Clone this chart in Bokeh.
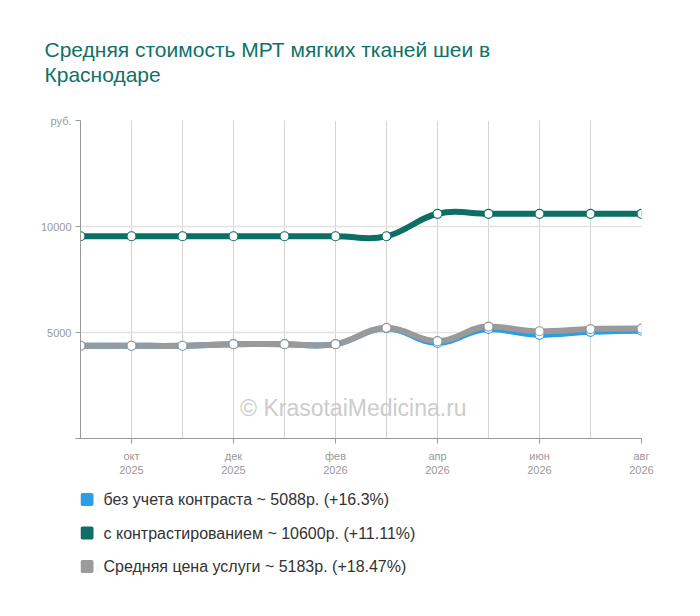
from bokeh.plotting import figure
from bokeh.layouts import column
from bokeh.models import (Range1d, FixedTicker, Label, ColumnDataSource, Title)
from bokeh.core.properties import value
from bokeh.embed import file_html
from bokeh.resources import INLINE

months = ["сен\n2025", "окт\n2025", "ноя\n2025", "дек\n2025", "янв\n2026", "фев\n2026",
          "мар\n2026", "апр\n2026", "май\n2026", "июн\n2026", "июл\n2026", "авг\n2026"]
no_contrast = [4375, 4375, 4375, 4450, 4450, 4450, 5200, 4510, 5170, 4890, 5030, 5088]
with_contrast = [9540, 9540, 9540, 9540, 9540, 9540, 9540, 10600, 10600, 10600, 10600, 10600]
average = [4375, 4375, 4375, 4450, 4450, 4450, 5220, 4590, 5280, 5060, 5160, 5183]

series_names = ["без учета контраста ~ 5088р. (+16.3%)",
                "с контрастированием ~ 10600р. (+11.11%)",
                "Средняя цена услуги ~ 5183р. (+18.47%)"]
series_colors = ["#2b9de2", "#0d6e66", "#9a9a9a"]
title_lines = ["Средняя стоимость МРТ мягких тканей шеи в", "Краснодаре"]
y_ticks = [0, 5000, 10000, 15000]
y_labels = ["", "5000", "10000", "руб."]
x_label_idx = [1, 3, 5, 7, 9, 11]

FONT = "Liberation Sans"
W = 684
H_CHART = 478
H_LEGEND = 122
BL, BR = 80, 43

p = figure(width=W, height=H_CHART, output_backend="svg", toolbar_location=None,
           x_range=Range1d(0, 11), y_range=Range1d(0, 15000),
           min_border_left=BL, min_border_right=BR, min_border_top=120, min_border_bottom=40)
p.outline_line_color = None
p.background_fill_color = "white"

# axes
xs = list(range(len(months)))
p.xaxis.ticker = FixedTicker(ticks=x_label_idx)
p.xaxis.major_label_overrides = {i: months[i] for i in x_label_idx}
p.xaxis.minor_tick_line_color = None
p.xaxis.major_tick_out = 5
p.xaxis.major_tick_in = 0
p.xaxis.axis_line_color = "#999999"
p.xaxis.major_tick_line_color = "#999999"
p.xaxis.major_label_text_color = "#999999"
p.xaxis.major_label_text_font = FONT
p.xaxis.major_label_text_font_size = "11px"
p.xaxis.major_label_standoff = 6

p.yaxis.ticker = FixedTicker(ticks=y_ticks)
p.yaxis.major_label_overrides = {t: l for t, l in zip(y_ticks, y_labels)}
p.yaxis.minor_tick_line_color = None
p.yaxis.major_tick_out = 5
p.yaxis.major_tick_in = 0
p.yaxis.axis_line_color = "#999999"
p.yaxis.major_tick_line_color = "#999999"
p.yaxis.major_label_text_color = "#999999"
p.yaxis.major_label_text_font = FONT
p.yaxis.major_label_text_font_size = "11px"
p.yaxis.major_label_standoff = 4

p.xgrid.ticker = FixedTicker(ticks=xs[1:])
p.xgrid.grid_line_color = "#d4d4d4"
p.xgrid.grid_line_width = 1
p.ygrid.ticker = FixedTicker(ticks=[5000, 10000])
p.ygrid.grid_line_color = "#e2e2e2"
p.ygrid.grid_line_width = 1.5

# watermark
p.add_layout(Label(x=5.35, y=1450, text="© KrasotaiMedicina.ru", text_align="center",
                   text_baseline="middle", text_font=FONT, text_font_size="23px",
                   text_color="#cccccc"))


def spline_source(ys):
    # Bezier control points (Highcharts-like spline) from the data points
    n = len(ys)
    x0, y0, x1, y1, cx0, cy0, cx1, cy1 = [], [], [], [], [], [], [], []
    k = 0.4

    def slope(i):
        a = ys[max(i - 1, 0)]
        b = ys[min(i + 1, n - 1)]
        if i == 0 or i == n - 1:
            return 0.0
        if (ys[i] - a) * (ys[i] - b) > 0:
            return 0.0
        return (b - a) / 2.0

    for i in range(n - 1):
        x0.append(xs[i]); y0.append(ys[i])
        x1.append(xs[i + 1]); y1.append(ys[i + 1])
        cx0.append(xs[i] + k); cy0.append(ys[i] + slope(i) * k)
        cx1.append(xs[i + 1] - k); cy1.append(ys[i + 1] - slope(i + 1) * k)
    return ColumnDataSource(dict(x0=x0, y0=y0, x1=x1, y1=y1, cx0=cx0, cy0=cy0, cx1=cx1, cy1=cy1))


series = [no_contrast, with_contrast, average]
for ys, col in zip(series, series_colors):
    p.bezier(x0="x0", y0="y0", x1="x1", y1="y1", cx0="cx0", cy0="cy0", cx1="cx1", cy1="cy1",
             source=spline_source(ys), line_color=col, line_width=6, line_cap="round")
for ys, col in zip(series, series_colors):
    p.scatter(xs, ys, size=9, fill_color="white", line_color=col, line_width=1.2)

# title (spacer next to the frame, then second line, then first line)
p.add_layout(Title(text=" ", text_font_size="1px", standoff=32), "above")
p.add_layout(Title(text=title_lines[1], align="left", offset=-36, standoff=0,
                   text_font=FONT, text_font_size="21px", text_color="#0f7266",
                   text_font_style="normal"), "above")
p.add_layout(Title(text=title_lines[0], align="left", offset=-36, standoff=0,
                   text_font=FONT, text_font_size="21px", text_color="#0f7266",
                   text_font_style="normal"), "above")

# legend panel: frame aligned with the chart frame, data units = page pixels
top = H_CHART
lg = figure(frame_width=W - BL - BR, frame_height=H_LEGEND, output_backend="svg",
            toolbar_location=None,
            x_range=Range1d(BL, W - BR), y_range=Range1d(top + H_LEGEND, top),
            min_border_left=BL, min_border_right=BR,
            min_border_top=0, min_border_bottom=0, x_axis_type=None, y_axis_type=None)
lg.outline_line_color = None
lg.xgrid.visible = False
lg.ygrid.visible = False
item_y = [499 + 33.5 * i for i in range(len(series_names))]
lg.rect(x=[86.5] * len(series_names), y=item_y, width=13, height=13,
        width_units="screen", height_units="screen",
        fill_color=series_colors, line_color=None, border_radius=2)
lg.text(x=[103] * len(series_names), y=item_y, text=series_names,
        text_font=value(FONT), text_font_size="16px", text_color="#333333",
        text_baseline="middle", text_align="left")

open("out.html", "w").write(file_html(column(p, lg, spacing=0), INLINE))
